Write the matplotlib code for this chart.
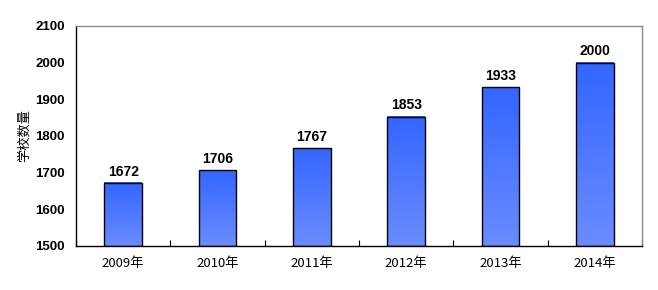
import matplotlib.pyplot as plt
import numpy as np
from matplotlib.colors import LinearSegmentedColormap

plt.rcParams['font.family'] = ['Noto Sans CJK SC', 'DejaVu Sans']

years = ['2009年', '2010年', '2011年', '2012年', '2013年', '2014年']
schools = [1672, 1706, 1767, 1853, 1933, 2000]
y_ticks = [1500, 1600, 1700, 1800, 1900, 2000, 2100]

fig = plt.figure(figsize=(6.58, 2.9), dpi=100)
ax = fig.add_axes([76 / 658, 1 - 246 / 290, 566 / 658, 220 / 290])

x = np.arange(len(years))
bar_w = 0.4
# gradient: lighter at the bottom, stronger blue at the top
cmap = LinearSegmentedColormap.from_list('bluegrad', ['#6a8cff', '#3366ff'])
grad = np.linspace(0, 1, 256).reshape(-1, 1)

bars = ax.bar(x, np.array(schools) - 1500, bottom=1500, width=bar_w,
              facecolor='none', edgecolor='black', linewidth=1.0, zorder=3)
for rect in bars:
    x0, y0 = rect.get_x(), rect.get_y()
    ax.imshow(grad, cmap=cmap, origin='lower', aspect='auto',
              extent=(x0, x0 + rect.get_width(), y0, y0 + rect.get_height()),
              zorder=2)

for xi, v in zip(x, schools):
    ax.text(xi, v + 12, str(v), ha='center', va='bottom',
            fontsize=10, fontweight='bold', family='Liberation Sans')

ax.set_xlim(-0.5, len(years) - 0.5)
ax.set_ylim(1500, 2100)
ax.set_yticks(y_ticks)
ax.set_yticklabels([str(t) for t in y_ticks], fontweight='bold',
                   fontsize=9.5, family='Liberation Sans')
ax.tick_params(axis='y', length=0, pad=8)

ax.set_xticks(x)
ax.set_xticklabels(years, fontsize=9.5)
ax.tick_params(axis='x', length=0, pad=8)
# small inward ticks between categories
ax.set_xticks(np.arange(len(years) + 1) - 0.5, minor=True)
ax.tick_params(axis='x', which='minor', direction='in', length=4, width=0.8)

ax.set_ylabel('学校数量', fontsize=9.5, labelpad=3)

for side in ['top', 'right']:
    ax.spines[side].set_color('#888888')
    ax.spines[side].set_linewidth(1.0)
for side in ['left', 'bottom']:
    ax.spines[side].set_color('black')
    ax.spines[side].set_linewidth(1.0)

plt.savefig('out.png', dpi=100)
